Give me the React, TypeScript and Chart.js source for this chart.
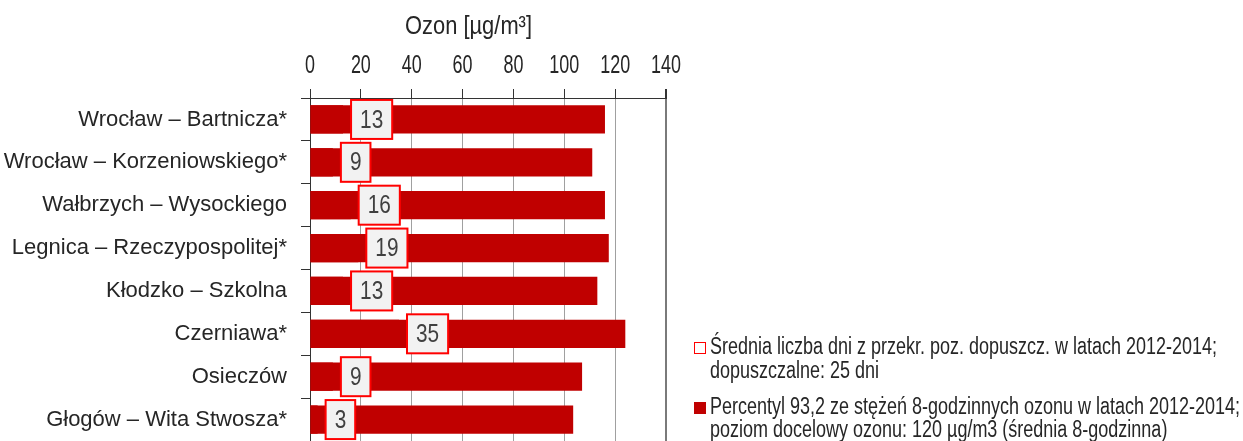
import React, { useEffect, useRef } from 'react';
import { Chart, registerables } from 'chart.js';

Chart.register(...registerables);

const SANS = '"Liberation Sans", Arial, sans-serif';

const categories = [
  'Wrocław – Bartnicza*',
  'Wrocław – Korzeniowskiego*',
  'Wałbrzych – Wysockiego',
  'Legnica – Rzeczypospolitej*',
  'Kłodzko – Szkolna',
  'Czerniawa*',
  'Osieczów',
  'Głogów – Wita Stwosza*',
];
const ozonePercentile = [116, 111, 116, 117.5, 113, 124, 107, 103.5];
const exceedanceDays = [13, 9, 16, 19, 13, 35, 9, 3];
const axisMin = 0;
const axisMax = 140;
const axisStep = 20;
const axisTitle = 'Ozon [µg/m³]';
const legendDays = [
  'Średnia liczba dni z przekr. poz. dopuszcz. w latach 2012-2014;',
  'dopuszczalne: 25 dni',
];
const legendOzone = [
  'Percentyl 93,2 ze stężeń 8-godzinnych ozonu w latach 2012-2014;',
  'poziom docelowy ozonu: 120 µg/m3 (średnia 8-godzinna)',
];

const BAR = '#C00000';
const TEXT = '#262626';

function scaledText(ctx: any, text: string, x: number, y: number, sx: number) {
  ctx.save();
  ctx.translate(x, y);
  ctx.scale(sx, 1);
  ctx.fillText(text, 0, 0);
  ctx.restore();
}

const overlay = {
  id: 'overlay',
  afterDatasetsDraw(chart: any) {
    const ctx = chart.ctx;
    const meta = chart.getDatasetMeta(1);
    ctx.save();
    ctx.font = `26px ${SANS}`;
    ctx.textAlign = 'center';
    ctx.textBaseline = 'middle';
    const sx = 0.8;
    meta.data.forEach((el: any, i: number) => {
      const txt = String(exceedanceDays[i]);
      const tw = ctx.measureText(txt).width * sx;
      const w = tw + 18;
      const h = 39;
      const left = el.x + 8;
      const top = el.y - h / 2;
      ctx.fillStyle = '#f2f2f2';
      ctx.fillRect(left, top, w, h);
      ctx.strokeStyle = '#ff0000';
      ctx.lineWidth = 2;
      ctx.strokeRect(left, top, w, h);
      ctx.fillStyle = '#404040';
      scaledText(ctx, txt, left + w / 2, el.y + 1, sx);
    });
    ctx.restore();
  },
  afterDraw(chart: any) {
    const ctx = chart.ctx;
    ctx.save();
    // x tick labels (condensed), positioned by the scale
    const xs = chart.scales.x;
    ctx.font = `26px ${SANS}`;
    ctx.fillStyle = TEXT;
    ctx.textAlign = 'center';
    ctx.textBaseline = 'middle';
    xs.ticks.forEach((t: any) => {
      scaledText(ctx, String(t.value), xs.getPixelForValue(t.value), 66, 0.69);
    });
    // axis title
    ctx.font = `25px ${SANS}`;
    const tsx = 127 / ctx.measureText(axisTitle).width;
    scaledText(ctx, axisTitle, 468.5, 27, tsx);
    // legend
    ctx.textAlign = 'left';
    ctx.textBaseline = 'alphabetic';
    ctx.font = `23px ${SANS}`;
    const lsx = 507 / ctx.measureText(legendDays[0]).width;
    ctx.fillStyle = '#ffffff';
    ctx.fillRect(694, 342, 12, 12);
    ctx.strokeStyle = '#ff0000';
    ctx.lineWidth = 1;
    ctx.strokeRect(694.5, 342.5, 11, 11);
    ctx.fillStyle = TEXT;
    scaledText(ctx, legendDays[0], 710, 354, lsx);
    scaledText(ctx, legendDays[1], 710, 378, lsx);
    ctx.fillStyle = BAR;
    ctx.fillRect(694, 402, 12, 12);
    ctx.fillStyle = TEXT;
    scaledText(ctx, legendOzone[0], 710, 414, lsx);
    scaledText(ctx, legendOzone[1], 710, 437, lsx);
    ctx.restore();
  },
};

export default function App() {
  const ref = useRef<HTMLCanvasElement | null>(null);
  useEffect(() => {
    if (!ref.current) return;
    const chart = new Chart(ref.current, {
      type: 'bar',
      data: {
        labels: categories,
        datasets: [
          {
            label: legendOzone.join(' '),
            data: ozonePercentile,
            backgroundColor: BAR,
            barPercentage: 0.66,
            categoryPercentage: 1,
            grouped: false,
          },
          {
            label: legendDays.join(' '),
            data: exceedanceDays,
            backgroundColor: BAR,
            barPercentage: 0.66,
            categoryPercentage: 1,
            grouped: false,
          },
        ],
      },
      options: {
        indexAxis: 'y',
        animation: false,
        responsive: false,
        devicePixelRatio: 1,
        layout: { padding: { top: 0, left: 0, right: 577, bottom: 0 } },
        plugins: {
          legend: { display: false },
          tooltip: { enabled: false },
          title: { display: false },
        },
        scales: {
          x: {
            position: 'top',
            min: axisMin,
            max: axisMax,
            ticks: {
              stepSize: axisStep,
              display: false,
            },
            grid: {
              color: (c: any) => (c.tick && c.tick.value === axisMax ? '#7a7a7a' : '#a0a0a0'),
              lineWidth: (c: any) => (c.tick && c.tick.value === axisMax ? 2 : 1),
              tickColor: '#333333',
              tickLength: 9,
            },
            border: { color: '#333333', width: 1 },
            afterFit: (s: any) => {
              s.height = 98;
              s.paddingLeft = 0;
              s.paddingRight = 0;
            },
          },
          y: {
            ticks: {
              font: { family: SANS, size: 22 },
              color: '#262626',
              padding: 14,
            },
            grid: {
              drawOnChartArea: false,
              offset: true,
              tickLength: 9,
              tickColor: '#333333',
            },
            border: { color: '#333333', width: 1 },
            afterFit: (s: any) => {
              s.width = 310;
              s.paddingTop = 0;
              s.paddingBottom = 0;
            },
          },
        },
      },
      plugins: [overlay],
    });
    return () => chart.destroy();
  }, []);
  return (
    <div style={{ position: 'absolute', left: 0, top: 0, width: 1243, height: 441, background: '#ffffff' }}>
      <canvas ref={ref} width={1243} height={441} />
    </div>
  );
}
